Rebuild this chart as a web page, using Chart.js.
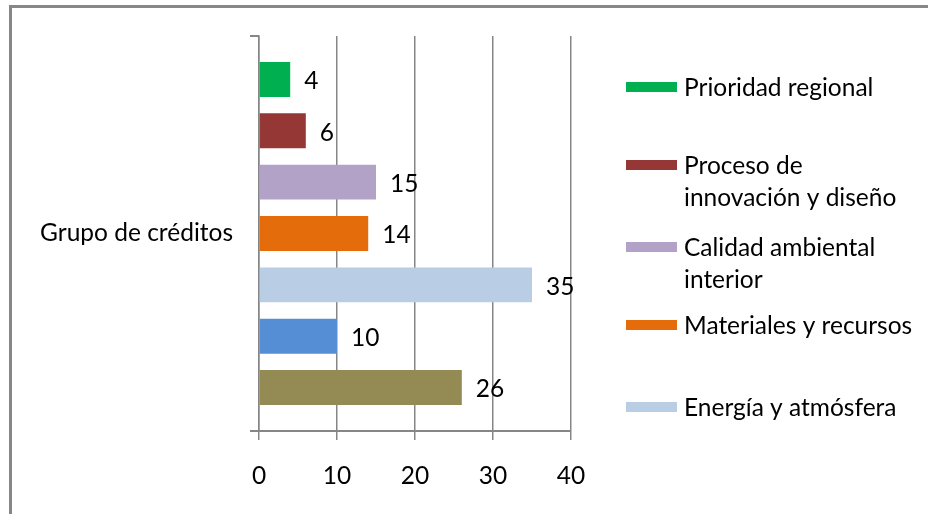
<!DOCTYPE html>
<html>
<head>
<meta charset="utf-8">
<script src="https://cdn.jsdelivr.net/npm/chart.js@4"></script>
<style>
  html, body { margin: 0; padding: 0; background: #fff; overflow: hidden; }
  #wrap { position: relative; width: 928px; height: 514px; }
  #frame { position: absolute; left: 9px; top: 5px; width: 1000px; height: 600px;
           border-top: 3px solid #878787; border-left: 3px solid #878787; }
  canvas { position: absolute; left: 0; top: 0; }
</style>
</head>
<body>
<div id="wrap">
  <div id="frame"></div>
  <canvas id="myBarChart" width="928" height="514"></canvas>
</div>
<script>
// horizontal bar chart - grupo de créditos

const categories = ['Grupo de créditos'];
const seriesNames = [
    'Prioridad regional',
    'Proceso de innovación y diseño',
    'Calidad ambiental interior',
    'Materiales y recursos',
    'Energía y atmósfera',
    'Uso eficiente del agua',
    'Sitios sustentables'
];
const seriesValues = [4, 6, 15, 14, 35, 10, 26];
const seriesColors = ['#00B050', '#953735', '#B3A2C7', '#E46C0A', '#B9CDE5', '#558ED5', '#948A54'];
// legend text as it wraps in the original (only the first five fit)
const legendLines = [
    ['Prioridad regional'],
    ['Proceso de', 'innovación y diseño'],
    ['Calidad ambiental', 'interior'],
    ['Materiales y recursos'],
    ['Energía y atmósfera']
];
const xTicks = [0, 10, 20, 30, 40];

const FONT = 'Lato, "Open Sans", sans-serif';
const FONT_SIZE = 24.5;

// value labels next to each bar
const valueLabels = {
    id: 'valueLabels',
    afterDatasetsDraw(chart) {
        const ctx = chart.ctx;
        ctx.save();
        ctx.font = FONT_SIZE + 'px ' + FONT;
        ctx.fillStyle = '#000';
        ctx.textAlign = 'left';
        ctx.textBaseline = 'middle';
        chart.data.datasets.forEach((ds, i) => {
            chart.getDatasetMeta(i).data.forEach((bar, j) => {
                ctx.fillText(String(ds.data[j]), bar.x + 14, bar.y + 2);
            });
        });
        ctx.restore();
    }
};

// legend on the right, drawn by hand so the labels can wrap
const sideLegend = {
    id: 'sideLegend',
    afterDraw(chart) {
        const ctx = chart.ctx;
        ctx.save();
        ctx.font = FONT_SIZE + 'px ' + FONT;
        ctx.textAlign = 'left';
        ctx.textBaseline = 'middle';
        let y = 87;
        legendLines.forEach((lines, i) => {
            ctx.fillStyle = seriesColors[i];
            ctx.fillRect(626, y - 5, 51, 10);
            ctx.fillStyle = '#000';
            lines.forEach((txt, k) => {
                ctx.fillText(txt, 684, y + k * 32 + 1);
            });
            y += (i % 2 === 0) ? 78 : 82;
        });
        ctx.restore();
    }
};

const ctx = document.getElementById('myBarChart').getContext('2d');
new Chart(ctx, {
    type: 'bar',
    data: {
        labels: categories,
        datasets: seriesNames.map((name, i) => ({
            label: name,
            data: [seriesValues[i]],
            backgroundColor: seriesColors[i],
            borderWidth: 0,
            categoryPercentage: 0.91,
            barPercentage: 0.68
        }))
    },
    options: {
        indexAxis: 'y',
        responsive: false,
        animation: false,
        layout: { padding: { left: 0, top: 36, right: 357, bottom: 0 } },
        plugins: {
            legend: { display: false },
            tooltip: { enabled: false }
        },
        scales: {
            x: {
                min: 0,
                max: 40,
                afterBuildTicks(scale) { scale.ticks = xTicks.map(v => ({ value: v })); },
                afterFit(scale) { scale.height = 83; },
                grid: { color: '#868686', lineWidth: 1.5, tickLength: 9, drawTicks: true },
                border: { color: '#868686', width: 2 },
                ticks: {
                    color: '#000',
                    padding: 21,
                    font: { family: FONT, size: FONT_SIZE }
                }
            },
            y: {
                afterFit(scale) { scale.width = 259; },
                grid: { drawOnChartArea: false, color: '#868686', lineWidth: 2, tickLength: 9 },
                border: { color: '#868686', width: 1.5 },
                ticks: {
                    color: '#000',
                    padding: 17,
                    font: { family: FONT, size: FONT_SIZE }
                }
            }
        }
    },
    plugins: [valueLabels, sideLegend]
});
</script>
</body>
</html>
